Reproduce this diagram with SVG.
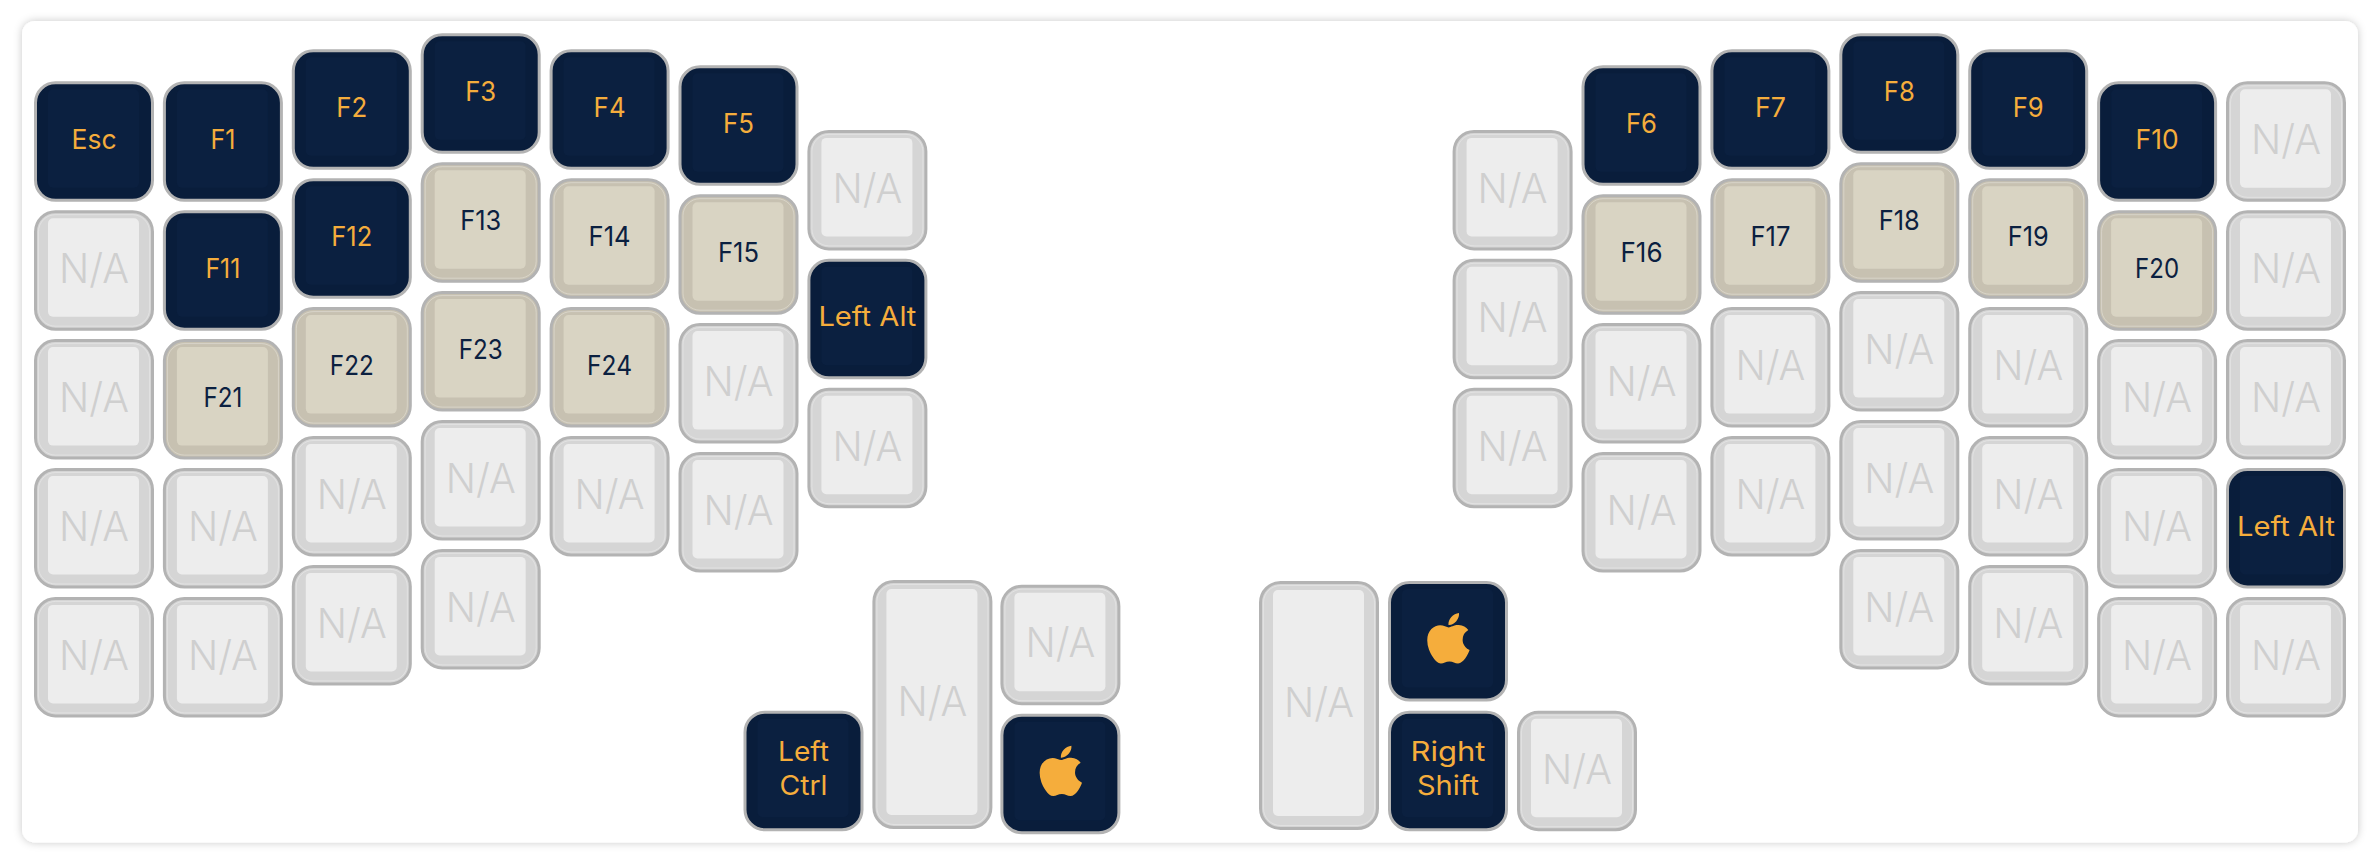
<svg xmlns="http://www.w3.org/2000/svg" width="2378" height="858" viewBox="0 0 2378 858">
<style>
text{font-family:"Inter","Noto Sans","Liberation Sans",sans-serif;font-weight:400;text-anchor:middle;font-size:27px}
.na text{font-size:41px;fill:#cfcfcf;font-weight:300}
.dk text{fill:#f5ad3c}
.tn text{fill:#0b2040}
.s{stroke:#b3b3b3;stroke-width:3}
.nas{fill:#d5d5d5}.nat{fill:#ededed}
.dks{fill:#091d3b}.dkt{fill:#0b2040}
.tns{fill:#c7c1b1}.tnt{fill:#d9d4c3}
.hl{fill:none;stroke:#fff;stroke-opacity:.3;stroke-width:1}
</style>
<defs>
<filter id="sh" x="-3%" y="-5%" width="106%" height="110%"><feDropShadow dx="0" dy="0" stdDeviation="4" flood-color="#000" flood-opacity=".22"/></filter>
<g id="capna"><rect class="s nas" x="1.5" y="1.5" width="117" height="117.5" rx="20"/><rect class="hl" x="4.5" y="4.5" width="111" height="111.5" rx="17"/><rect class="nat" x="14" y="8" width="91" height="98.5" rx="5"/></g>
<g id="captn"><rect class="s tns" x="1.5" y="1.5" width="117" height="117.5" rx="20"/><rect class="hl" x="4.5" y="4.5" width="111" height="111.5" rx="17"/><rect class="tnt" x="14" y="8" width="91" height="98.5" rx="5"/></g>
<g id="capdk"><rect class="s dks" x="1.5" y="1.5" width="117" height="117.5" rx="20"/><rect class="dkt" x="14" y="8" width="91" height="98.5" rx="5"/></g>
<g id="captall"><rect class="s nas" x="1.5" y="1.5" width="117" height="246" rx="20"/><rect class="hl" x="4.5" y="4.5" width="111" height="240" rx="17"/><rect class="nat" x="14" y="9" width="91" height="226" rx="5"/></g>
<path id="apple" fill="#f5ad3c" transform="translate(38.8,28.4) scale(.1125)" d="M318.7 268.7c-.2-36.7 16.4-64.4 50-84.8-18.8-26.9-47.2-41.7-84.7-44.6-35.5-2.8-74.3 20.7-88.5 20.7-15 0-49.4-19.7-76.4-19.7C63.3 141.2 4 184.8 4 273.5q0 39.3 14.4 81.2c12.8 36.7 59 126.7 107.2 125.2 25.2-.6 43-17.9 75.8-17.9 31.8 0 48.3 17.9 76.4 17.9 48.6-.7 90.4-82.5 102.6-119.3-65.2-30.7-61.7-90-61.7-91.9zm-56.6-164.2c27.3-32.4 24.8-61.9 24-72.5-24.1 1.4-52 16.4-67.9 34.9-17.5 19.8-27.8 44.3-25.6 71.9 26.1 2 49.9-11.4 69.5-34.3z"/>
</defs>
<rect id="card" x="22" y="21" width="2336" height="821.5" rx="13" fill="#fff" filter="url(#sh)"/>
<g id="left-hand">
<g id="key-esc" class="dk" transform="translate(34,81.3)"><use href="#capdk"/><text x="60" y="67.5" textLength="45" lengthAdjust="spacingAndGlyphs">Esc</text></g>
<g id="key-l0-1" class="na" transform="translate(34,210.2)"><use href="#capna"/><text x="60" y="73" textLength="70" lengthAdjust="spacingAndGlyphs">N/A</text></g>
<g id="key-l0-2" class="na" transform="translate(34,339.1)"><use href="#capna"/><text x="60" y="73" textLength="70" lengthAdjust="spacingAndGlyphs">N/A</text></g>
<g id="key-l0-3" class="na" transform="translate(34,468)"><use href="#capna"/><text x="60" y="73" textLength="70" lengthAdjust="spacingAndGlyphs">N/A</text></g>
<g id="key-l0-4" class="na" transform="translate(34,596.9)"><use href="#capna"/><text x="60" y="73" textLength="70" lengthAdjust="spacingAndGlyphs">N/A</text></g>
<g id="key-f1" class="dk" transform="translate(162.9,81.3)"><use href="#capdk"/><text x="60" y="67.5" textLength="25" lengthAdjust="spacingAndGlyphs">F1</text></g>
<g id="key-f11" class="dk" transform="translate(162.9,210.2)"><use href="#capdk"/><text x="60" y="67.5" textLength="35" lengthAdjust="spacingAndGlyphs">F11</text></g>
<g id="key-f21" class="tn" transform="translate(162.9,339.1)"><use href="#captn"/><text x="60" y="67.5" textLength="39" lengthAdjust="spacingAndGlyphs">F21</text></g>
<g id="key-l1-3" class="na" transform="translate(162.9,468)"><use href="#capna"/><text x="60" y="73" textLength="70" lengthAdjust="spacingAndGlyphs">N/A</text></g>
<g id="key-l1-4" class="na" transform="translate(162.9,596.9)"><use href="#capna"/><text x="60" y="73" textLength="70" lengthAdjust="spacingAndGlyphs">N/A</text></g>
<g id="key-f2" class="dk" transform="translate(291.8,49.3)"><use href="#capdk"/><text x="60" y="67.5" textLength="31" lengthAdjust="spacingAndGlyphs">F2</text></g>
<g id="key-f12" class="dk" transform="translate(291.8,178.2)"><use href="#capdk"/><text x="60" y="67.5" textLength="41" lengthAdjust="spacingAndGlyphs">F12</text></g>
<g id="key-f22" class="tn" transform="translate(291.8,307.1)"><use href="#captn"/><text x="60" y="67.5" textLength="44" lengthAdjust="spacingAndGlyphs">F22</text></g>
<g id="key-l2-3" class="na" transform="translate(291.8,436)"><use href="#capna"/><text x="60" y="73" textLength="70" lengthAdjust="spacingAndGlyphs">N/A</text></g>
<g id="key-l2-4" class="na" transform="translate(291.8,564.9)"><use href="#capna"/><text x="60" y="73" textLength="70" lengthAdjust="spacingAndGlyphs">N/A</text></g>
<g id="key-f3" class="dk" transform="translate(420.7,33.3)"><use href="#capdk"/><text x="60" y="67.5" textLength="31" lengthAdjust="spacingAndGlyphs">F3</text></g>
<g id="key-f13" class="tn" transform="translate(420.7,162.2)"><use href="#captn"/><text x="60" y="67.5" textLength="41" lengthAdjust="spacingAndGlyphs">F13</text></g>
<g id="key-f23" class="tn" transform="translate(420.7,291.1)"><use href="#captn"/><text x="60" y="67.5" textLength="44" lengthAdjust="spacingAndGlyphs">F23</text></g>
<g id="key-l3-3" class="na" transform="translate(420.7,420)"><use href="#capna"/><text x="60" y="73" textLength="70" lengthAdjust="spacingAndGlyphs">N/A</text></g>
<g id="key-l3-4" class="na" transform="translate(420.7,548.9)"><use href="#capna"/><text x="60" y="73" textLength="70" lengthAdjust="spacingAndGlyphs">N/A</text></g>
<g id="key-f4" class="dk" transform="translate(549.6,49.3)"><use href="#capdk"/><text x="60" y="67.5" textLength="32" lengthAdjust="spacingAndGlyphs">F4</text></g>
<g id="key-f14" class="tn" transform="translate(549.6,178.2)"><use href="#captn"/><text x="60" y="67.5" textLength="42" lengthAdjust="spacingAndGlyphs">F14</text></g>
<g id="key-f24" class="tn" transform="translate(549.6,307.1)"><use href="#captn"/><text x="60" y="67.5" textLength="45" lengthAdjust="spacingAndGlyphs">F24</text></g>
<g id="key-l4-3" class="na" transform="translate(549.6,436)"><use href="#capna"/><text x="60" y="73" textLength="70" lengthAdjust="spacingAndGlyphs">N/A</text></g>
<g id="key-f5" class="dk" transform="translate(678.5,65.3)"><use href="#capdk"/><text x="60" y="67.5" textLength="31" lengthAdjust="spacingAndGlyphs">F5</text></g>
<g id="key-f15" class="tn" transform="translate(678.5,194.2)"><use href="#captn"/><text x="60" y="67.5" textLength="41" lengthAdjust="spacingAndGlyphs">F15</text></g>
<g id="key-l5-2" class="na" transform="translate(678.5,323.1)"><use href="#capna"/><text x="60" y="73" textLength="70" lengthAdjust="spacingAndGlyphs">N/A</text></g>
<g id="key-l5-3" class="na" transform="translate(678.5,452)"><use href="#capna"/><text x="60" y="73" textLength="70" lengthAdjust="spacingAndGlyphs">N/A</text></g>
<g id="key-l6-0" class="na" transform="translate(807.4,129.9)"><use href="#capna"/><text x="60" y="73" textLength="70" lengthAdjust="spacingAndGlyphs">N/A</text></g>
<g id="key-lalt-l" class="dk" transform="translate(807.4,258.8)"><use href="#capdk"/><text x="60" y="67.5" textLength="98" lengthAdjust="spacingAndGlyphs">Left Alt</text></g>
<g id="key-l6-2" class="na" transform="translate(807.4,387.7)"><use href="#capna"/><text x="60" y="73" textLength="70" lengthAdjust="spacingAndGlyphs">N/A</text></g>
<g id="key-lctrl" class="dk" transform="translate(743.5,710.7)"><use href="#capdk"/><text x="60" y="50" textLength="51" lengthAdjust="spacingAndGlyphs">Left</text><text x="60" y="84" textLength="48" lengthAdjust="spacingAndGlyphs">Ctrl</text></g>
<g id="key-ltall" class="na" transform="translate(872.4,580)"><use href="#captall"/><text x="60" y="136" textLength="70" lengthAdjust="spacingAndGlyphs">N/A</text></g>
<g id="key-lt1" class="na" transform="translate(1000.4,584.7)"><use href="#capna"/><text x="60" y="72" textLength="70" lengthAdjust="spacingAndGlyphs">N/A</text></g>
<g id="key-lcmd" class="dk" transform="translate(1000.4,713.7)"><use href="#capdk"/><use href="#apple"/></g>
</g>
<g id="right-hand">
<g id="key-r0-0" class="na" transform="translate(1452.6,129.9)"><use href="#capna"/><text x="60" y="73" textLength="70" lengthAdjust="spacingAndGlyphs">N/A</text></g>
<g id="key-r0-1" class="na" transform="translate(1452.6,258.8)"><use href="#capna"/><text x="60" y="73" textLength="70" lengthAdjust="spacingAndGlyphs">N/A</text></g>
<g id="key-r0-2" class="na" transform="translate(1452.6,387.7)"><use href="#capna"/><text x="60" y="73" textLength="70" lengthAdjust="spacingAndGlyphs">N/A</text></g>
<g id="key-f6" class="dk" transform="translate(1581.5,65.3)"><use href="#capdk"/><text x="60" y="67.5" textLength="31" lengthAdjust="spacingAndGlyphs">F6</text></g>
<g id="key-f16" class="tn" transform="translate(1581.5,194.2)"><use href="#captn"/><text x="60" y="67.5" textLength="42" lengthAdjust="spacingAndGlyphs">F16</text></g>
<g id="key-r1-2" class="na" transform="translate(1581.5,323.1)"><use href="#capna"/><text x="60" y="73" textLength="70" lengthAdjust="spacingAndGlyphs">N/A</text></g>
<g id="key-r1-3" class="na" transform="translate(1581.5,452)"><use href="#capna"/><text x="60" y="73" textLength="70" lengthAdjust="spacingAndGlyphs">N/A</text></g>
<g id="key-f7" class="dk" transform="translate(1710.4,49.3)"><use href="#capdk"/><text x="60" y="67.5" textLength="31" lengthAdjust="spacingAndGlyphs">F7</text></g>
<g id="key-f17" class="tn" transform="translate(1710.4,178.2)"><use href="#captn"/><text x="60" y="67.5" textLength="40" lengthAdjust="spacingAndGlyphs">F17</text></g>
<g id="key-r2-2" class="na" transform="translate(1710.4,307.1)"><use href="#capna"/><text x="60" y="73" textLength="70" lengthAdjust="spacingAndGlyphs">N/A</text></g>
<g id="key-r2-3" class="na" transform="translate(1710.4,436)"><use href="#capna"/><text x="60" y="73" textLength="70" lengthAdjust="spacingAndGlyphs">N/A</text></g>
<g id="key-f8" class="dk" transform="translate(1839.3,33.3)"><use href="#capdk"/><text x="60" y="67.5" textLength="31" lengthAdjust="spacingAndGlyphs">F8</text></g>
<g id="key-f18" class="tn" transform="translate(1839.3,162.2)"><use href="#captn"/><text x="60" y="67.5" textLength="41" lengthAdjust="spacingAndGlyphs">F18</text></g>
<g id="key-r3-2" class="na" transform="translate(1839.3,291.1)"><use href="#capna"/><text x="60" y="73" textLength="70" lengthAdjust="spacingAndGlyphs">N/A</text></g>
<g id="key-r3-3" class="na" transform="translate(1839.3,420)"><use href="#capna"/><text x="60" y="73" textLength="70" lengthAdjust="spacingAndGlyphs">N/A</text></g>
<g id="key-r3-4" class="na" transform="translate(1839.3,548.9)"><use href="#capna"/><text x="60" y="73" textLength="70" lengthAdjust="spacingAndGlyphs">N/A</text></g>
<g id="key-f9" class="dk" transform="translate(1968.2,49.3)"><use href="#capdk"/><text x="60" y="67.5" textLength="31" lengthAdjust="spacingAndGlyphs">F9</text></g>
<g id="key-f19" class="tn" transform="translate(1968.2,178.2)"><use href="#captn"/><text x="60" y="67.5" textLength="41" lengthAdjust="spacingAndGlyphs">F19</text></g>
<g id="key-r4-2" class="na" transform="translate(1968.2,307.1)"><use href="#capna"/><text x="60" y="73" textLength="70" lengthAdjust="spacingAndGlyphs">N/A</text></g>
<g id="key-r4-3" class="na" transform="translate(1968.2,436)"><use href="#capna"/><text x="60" y="73" textLength="70" lengthAdjust="spacingAndGlyphs">N/A</text></g>
<g id="key-r4-4" class="na" transform="translate(1968.2,564.9)"><use href="#capna"/><text x="60" y="73" textLength="70" lengthAdjust="spacingAndGlyphs">N/A</text></g>
<g id="key-f10" class="dk" transform="translate(2097.1,81.3)"><use href="#capdk"/><text x="60" y="67.5" textLength="43" lengthAdjust="spacingAndGlyphs">F10</text></g>
<g id="key-f20" class="tn" transform="translate(2097.1,210.2)"><use href="#captn"/><text x="60" y="67.5" textLength="44" lengthAdjust="spacingAndGlyphs">F20</text></g>
<g id="key-r5-2" class="na" transform="translate(2097.1,339.1)"><use href="#capna"/><text x="60" y="73" textLength="70" lengthAdjust="spacingAndGlyphs">N/A</text></g>
<g id="key-r5-3" class="na" transform="translate(2097.1,468)"><use href="#capna"/><text x="60" y="73" textLength="70" lengthAdjust="spacingAndGlyphs">N/A</text></g>
<g id="key-r5-4" class="na" transform="translate(2097.1,596.9)"><use href="#capna"/><text x="60" y="73" textLength="70" lengthAdjust="spacingAndGlyphs">N/A</text></g>
<g id="key-r6-0" class="na" transform="translate(2226,81.3)"><use href="#capna"/><text x="60" y="73" textLength="70" lengthAdjust="spacingAndGlyphs">N/A</text></g>
<g id="key-r6-1" class="na" transform="translate(2226,210.2)"><use href="#capna"/><text x="60" y="73" textLength="70" lengthAdjust="spacingAndGlyphs">N/A</text></g>
<g id="key-r6-2" class="na" transform="translate(2226,339.1)"><use href="#capna"/><text x="60" y="73" textLength="70" lengthAdjust="spacingAndGlyphs">N/A</text></g>
<g id="key-lalt-r" class="dk" transform="translate(2226,468)"><use href="#capdk"/><text x="60" y="67.5" textLength="98" lengthAdjust="spacingAndGlyphs">Left Alt</text></g>
<g id="key-r6-4" class="na" transform="translate(2226,596.9)"><use href="#capna"/><text x="60" y="73" textLength="70" lengthAdjust="spacingAndGlyphs">N/A</text></g>
<g id="key-rtall" class="na" transform="translate(1259,581)"><use href="#captall"/><text x="60" y="136" textLength="70" lengthAdjust="spacingAndGlyphs">N/A</text></g>
<g id="key-rcmd" class="dk" transform="translate(1388,581)"><use href="#capdk"/><use href="#apple"/></g>
<g id="key-rshift" class="dk" transform="translate(1388,710.7)"><use href="#capdk"/><text x="60" y="50" textLength="75" lengthAdjust="spacingAndGlyphs">Right</text><text x="60" y="84" textLength="62" lengthAdjust="spacingAndGlyphs">Shift</text></g>
<g id="key-rt1" class="na" transform="translate(1517,710.7)"><use href="#capna"/><text x="60" y="73" textLength="70" lengthAdjust="spacingAndGlyphs">N/A</text></g>
</g>
</svg>
